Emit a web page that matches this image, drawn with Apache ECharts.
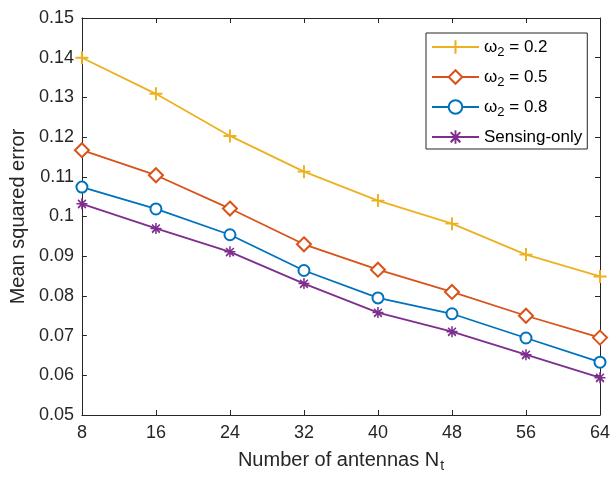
<!DOCTYPE html>
<html><head><meta charset="utf-8">
<script src="https://cdn.jsdelivr.net/npm/echarts@6/dist/echarts.min.js"></script>
<style>html,body{margin:0;padding:0;background:#fff}#c{width:613px;height:479px}</style>
</head><body><div id="c"></div>
<script>
const antennas = [8, 16, 24, 32, 40, 48, 56, 64];
const w02 = [0.1400, 0.1309, 0.1203, 0.1113, 0.1040, 0.0982, 0.0904, 0.0849];
const w05 = [0.1167, 0.1104, 0.1020, 0.0930, 0.0866, 0.0810, 0.0750, 0.0695];
const w08 = [0.1074, 0.1019, 0.0954, 0.0864, 0.0795, 0.0755, 0.0694, 0.0633];
const sensingOnly = [0.1032, 0.0970, 0.0911, 0.0831, 0.0758, 0.0710, 0.0652, 0.0594];
const seriesNames = ['w02', 'w05', 'w08', 'Sensing-only'];
const legendLabels = {
  'w02': '{w|ω}{sub|2}{w| = 0.2}',
  'w05': '{w|ω}{sub|2}{w| = 0.5}',
  'w08': '{w|ω}{sub|2}{w| = 0.8}',
  'Sensing-only': '{w|Sensing-only}'
};
const yTicks = {min: 0.05, max: 0.15, interval: 0.01};
const xTicks = {min: 8, max: 64, interval: 8};

const FONT = '"Liberation Sans", Arial, Helvetica, sans-serif';
const AX = '#262626';
const plusPath = 'path://M4.25,0 H5.75 V4.25 H10 V5.75 H5.75 V10 H4.25 V5.75 H0 V4.25 H4.25 Z';
const starPath = 'path://M10,5.7 L10,4.3 L0,4.3 L0,5.7 Z M4.3,10 L5.7,10 L5.7,0 L4.3,0 Z M8.04,9.53 L9.03,8.04 L1.96,0.97 L0.97,1.96 Z M0.97,8.04 L1.96,9.53 L9.03,1.96 L8.04,0.97 Z';

function mk(name, data, color, symbol, size) {
  return {
    name: name, type: 'line',
    data: antennas.map((x, i) => [x, data[i]]),
    color: color,
    symbol: symbol, symbolSize: size,
    showAllSymbol: true,
    lineStyle: {width: 1.8, color: color},
    itemStyle: symbol.startsWith('empty') ? {color: color, borderWidth: 1.6} : {color: color},
    z: 3
  };
}

const chart = echarts.init(document.getElementById('c'), null, {renderer: 'canvas'});
chart.setOption({
  animation: false,
  backgroundColor: '#fff',
  grid: {left: 80, right: 12, top: 18, bottom: 64, containLabel: false},
  xAxis: [{
    type: 'value', min: xTicks.min, max: xTicks.max, interval: xTicks.interval,
    axisLine: {show: true, onZero: false, lineStyle: {color: AX, width: 1}},
    axisTick: {show: true, inside: true, length: 5, lineStyle: {color: AX}},
    axisLabel: {color: AX, fontSize: 18, fontFamily: FONT, margin: 9},
    splitLine: {show: false},
    name: '{n|Number of antennas N}{sub|t}',
    nameLocation: 'middle', nameGap: 32,
    nameTextStyle: {color: AX, fontSize: 20, fontFamily: FONT,
      rich: {
        n: {fontSize: 20, fontFamily: FONT, color: AX, lineHeight: 26},
        sub: {fontSize: 14, fontFamily: FONT, color: AX, verticalAlign: 'bottom', lineHeight: 10, padding: [0,0,0,1]}
      }}
  }, {
    type: 'value', position: 'top', min: xTicks.min, max: xTicks.max, interval: xTicks.interval,
    axisLine: {show: true, onZero: false, lineStyle: {color: AX, width: 1}},
    axisTick: {show: true, inside: true, length: 5, lineStyle: {color: AX}},
    axisLabel: {show: false}, splitLine: {show: false}
  }],
  yAxis: [{
    type: 'value', min: yTicks.min, max: yTicks.max, interval: yTicks.interval,
    axisLine: {show: true, onZero: false, lineStyle: {color: AX, width: 1}},
    axisTick: {show: true, inside: true, length: 5, lineStyle: {color: AX}},
    axisLabel: {color: AX, fontSize: 18, fontFamily: FONT, margin: 8,
      formatter: v => String(Math.round(v * 100) / 100)},
    splitLine: {show: false},
    name: 'Mean squared error', nameLocation: 'middle', nameGap: 53, nameRotate: 90,
    nameTextStyle: {color: AX, fontSize: 20, fontFamily: FONT}
  }, {
    type: 'value', position: 'right', min: yTicks.min, max: yTicks.max, interval: yTicks.interval,
    axisLine: {show: true, onZero: false, lineStyle: {color: AX, width: 1}},
    axisTick: {show: true, inside: true, length: 5, lineStyle: {color: AX}},
    axisLabel: {show: false}, splitLine: {show: false}
  }],
  legend: {
    orient: 'vertical', left: 426, top: 33,
    padding: [2, 5, 0, 5],
    itemWidth: 47, itemHeight: 17, itemGap: 6,
    backgroundColor: '#fff', borderColor: AX, borderWidth: 1, borderRadius: 0,
    data: seriesNames,
    formatter: n => legendLabels[n],
    textStyle: {
      color: '#000', fontSize: 17, fontFamily: FONT, lineHeight: 24,
      rich: {
        w: {fontSize: 17, fontFamily: FONT, color: '#000', lineHeight: 24},
        sub: {fontSize: 13, fontFamily: FONT, color: '#000', lineHeight: 12, verticalAlign: 'bottom'}
      }
    }
  },
  series: [
    mk('w02', w02, '#EDB120', plusPath, 13),
    mk('w05', w05, '#D95319', 'emptyDiamond', 14),
    mk('w08', w08, '#0072BD', 'emptyCircle', 11),
    mk('Sensing-only', sensingOnly, '#7E2F8E', starPath, 11)
  ]
});
</script></body></html>
